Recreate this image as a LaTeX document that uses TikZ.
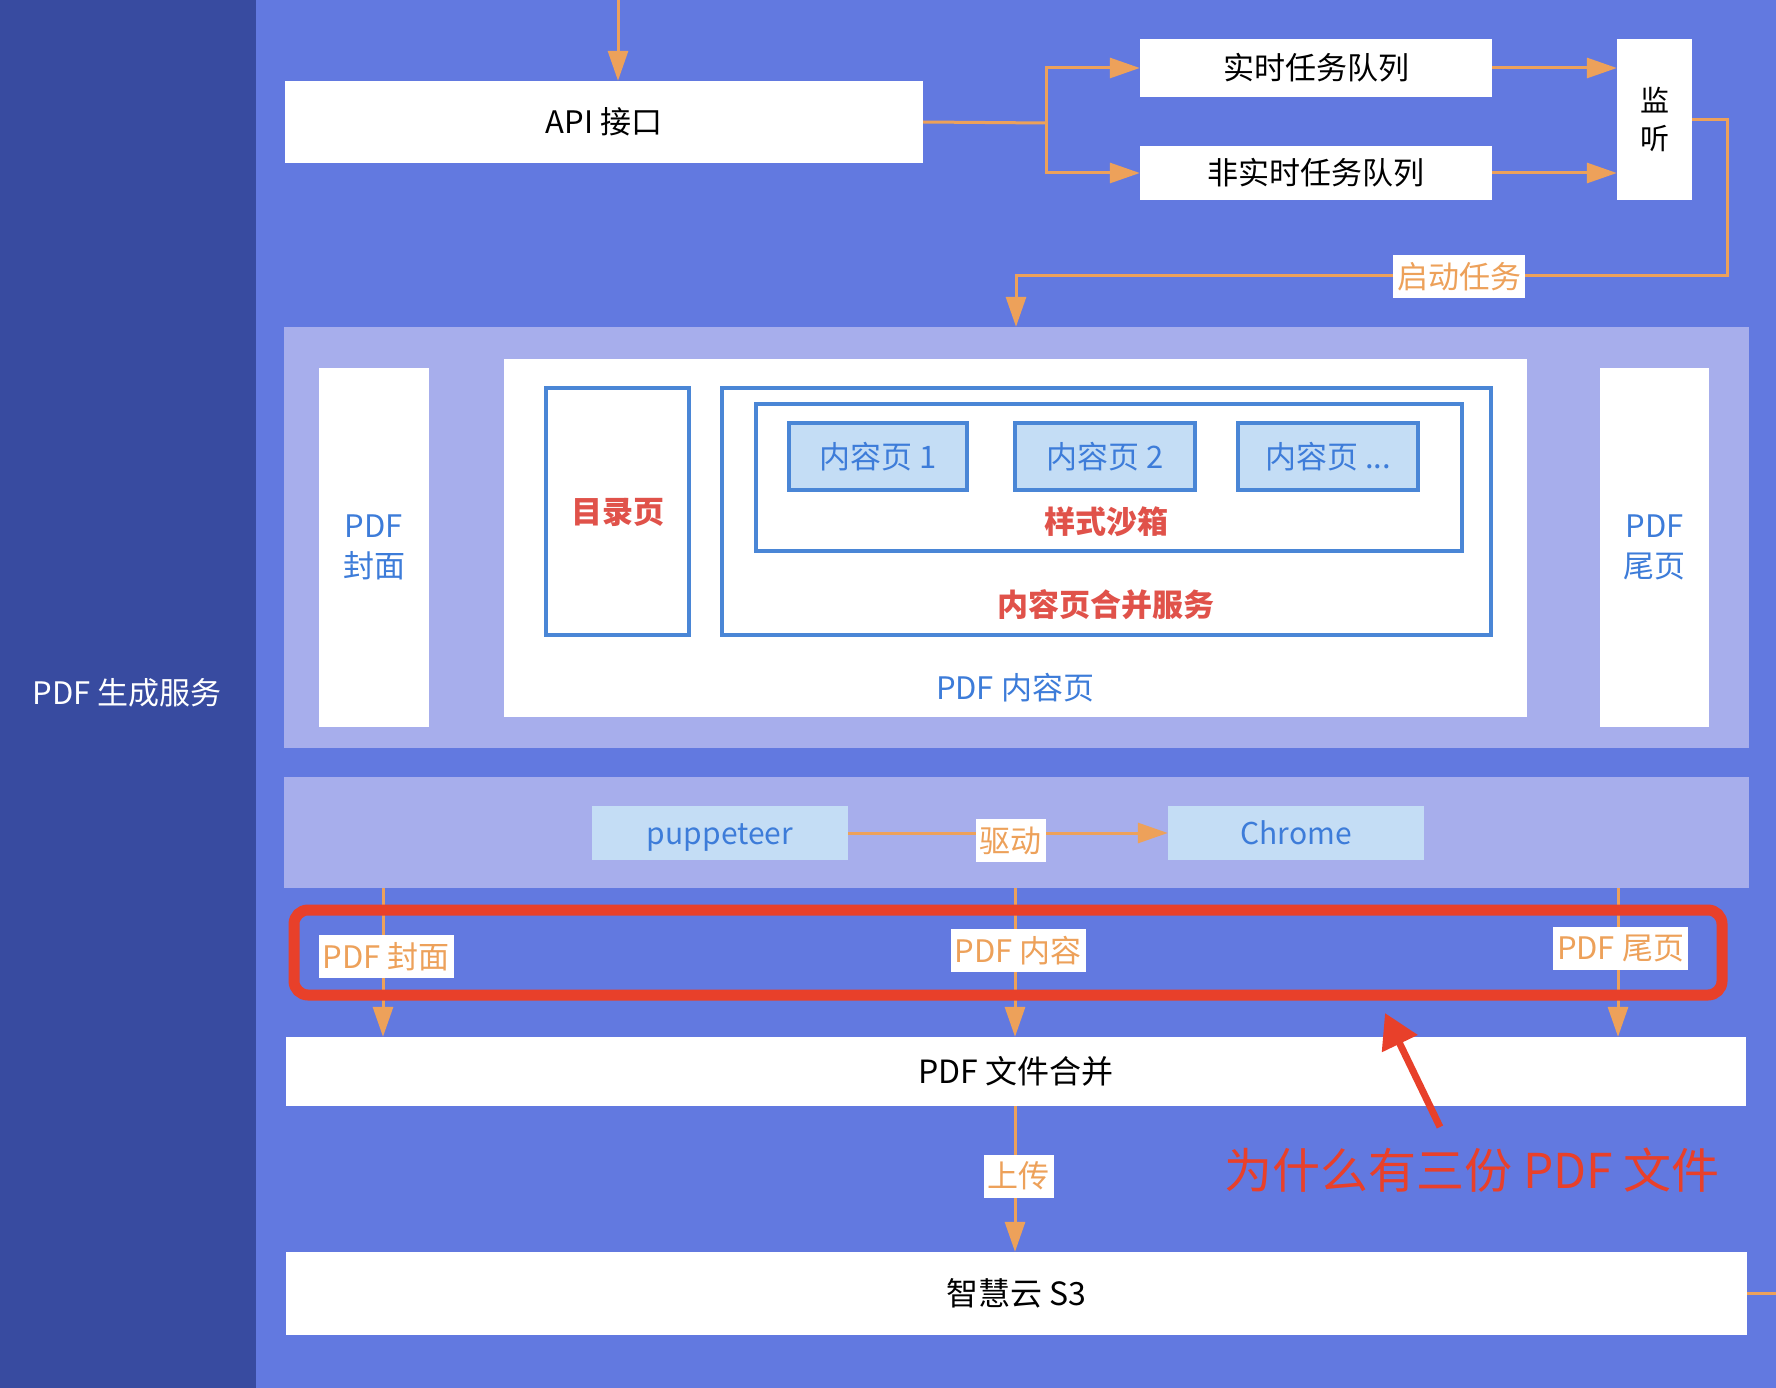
\documentclass[tikz,border=0pt]{standalone}
\usepackage{fontspec}
\setmainfont{Noto Sans CJK SC}
\usetikzlibrary{arrows.meta}
\definecolor{darkp}{HTML}{384BA0}
\definecolor{mainbg}{HTML}{6279E0}
\definecolor{lightblk}{HTML}{A7AEEC}
\definecolor{txtblue}{HTML}{3D7CD9}
\definecolor{boxfill}{HTML}{C4DDF5}
\definecolor{bord}{HTML}{4A86D6}
\definecolor{redtxt}{HTML}{E0524A}
\definecolor{orng}{HTML}{EDA15A}
\definecolor{annred}{HTML}{E8402A}
\newcommand\fsz[1]{\fontsize{#1}{#1}\selectfont}
\tikzset{
  whitebox/.style={fill=white, draw=none, inner sep=0pt, text=black, font=\fsz{31}},
  lightbox/.style={fill=lightblk, draw=none, inner sep=0pt},
  pagebox/.style={fill=white, draw=none, inner sep=0pt, text=txtblue, font=\fsz{31}, align=center},
  framebox/.style={fill=white, draw=bord, line width=4pt, inner sep=0pt},
  cpage/.style={fill=boxfill, draw=bord, line width=4pt, inner sep=0pt, text=txtblue, font=\fsz{31}},
  engbox/.style={fill=boxfill, draw=none, inner sep=0pt, text=txtblue, font=\fsz{30}, text height=22pt, text depth=0pt},
  redlbl/.style={text=redtxt, font=\fsz{31}\bfseries, inner sep=0pt},
  conn/.style={draw=orng, line width=3pt},
  flow/.style={conn, -{Triangle[length=30pt,width=20pt]}},
  lbl/.style={fill=white, text=orng, inner xsep=4pt, inner ysep=0pt, minimum height=43pt, font=\fsz{31}},
}
\begin{document}
\begin{tikzpicture}[x=1pt,y=-1pt]
\useasboundingbox (0,0) rectangle (1776,1388);
% backgrounds
\fill[mainbg] (0,0) rectangle (1776,1388);
\fill[darkp] (0,0) rectangle (256,1388);
\node[text=white, font=\fsz{31}, inner sep=0pt] (svc) at (127,693) {PDF 生成服务};

% top area
\node[whitebox, minimum width=638pt, minimum height=82pt] (api) at (604,122) {API 接口};
\node[whitebox, minimum width=352pt, minimum height=58pt] (rt) at (1316,68) {实时任务队列};
\node[whitebox, minimum width=352pt, minimum height=54pt] (nrt) at (1316,173) {非实时任务队列};
\node[whitebox, minimum width=75pt, minimum height=161pt, align=center, font=\fsz{29}\linespread{1.28}\selectfont] (jt) at (1654.5,119.5) {监\\听};

\coordinate (top) at (618,0);
\coordinate (fork) at (1046,123);
\coordinate (turnA) at (1727,275);
\coordinate (turnB) at (1016,275);

% block 1
\node[lightbox, minimum width=1465pt, minimum height=421pt] (blk1) at (1016.5,537.5) {};
\node[pagebox, minimum width=110pt, minimum height=359pt] (cover) at (374,547.5) {PDF\\[9pt]封面};
\node[pagebox, minimum width=109pt, minimum height=359pt] (tail) at (1654.5,547.5) {PDF\\[9pt]尾页};
\node[pagebox, minimum width=1023pt, minimum height=358pt] (content) at (1015.5,538) {};
\node[text=txtblue, font=\fsz{31}, inner sep=0pt] (contentlbl) at (1015,688) {PDF 内容页};
\node[framebox, minimum width=143pt, minimum height=247pt] (toc) at (617.5,511.5) {};
\node[redlbl] (toclbl) at (618,512) {目录页};
\node[framebox, minimum width=769pt, minimum height=247pt] (merger) at (1106.5,511.5) {};
\node[redlbl] (mergerlbl) at (1106,605) {内容页合并服务};
\node[framebox, minimum width=706pt, minimum height=147pt] (sandbox) at (1109,477.5) {};
\node[redlbl] (sandboxlbl) at (1106,522) {样式沙箱};
\node[cpage, minimum width=178pt, minimum height=67pt] (p1) at (878,456.5) {内容页 1};
\node[cpage, minimum width=180pt, minimum height=67pt] (p2) at (1105,456.5) {内容页 2};
\node[cpage, minimum width=180pt, minimum height=67pt] (p3) at (1328,456.5) {内容页 ...};

% block 2
\node[lightbox, minimum width=1465pt, minimum height=111pt] (blk2) at (1016.5,832.5) {};
\node[engbox, minimum width=256pt, minimum height=54pt] (pup) at (720,833) {puppeteer};
\node[engbox, minimum width=256pt, minimum height=54pt] (chrome) at (1296,833) {Chrome};

% lower boxes
\node[whitebox, font=\fsz{32}, minimum width=1460pt, minimum height=69pt] (merge) at (1016,1071.5) {PDF 文件合并};
\node[whitebox, font=\fsz{32}, minimum width=1461pt, minimum height=83pt] (s3) at (1016.5,1293.5) {智慧云 S3};

% connectors
\draw[flow] (top) -- (top |- api.north);
\draw[conn] (api.east) -- (fork);
\draw[flow] (fork) |- (rt.west);
\draw[flow] (fork) |- (nrt.west);
\draw[flow] (rt.east) -- (rt.east -| jt.west);
\draw[flow] (nrt.east) -- (nrt.east -| jt.west);
\draw[flow] (jt.east) -| (turnA) -- (turnB) -- (turnB |- blk1.north);
\node[lbl] (startlbl) at (1459,276.5) {启动任务};

\draw[flow] (pup.east) -- (chrome.west);
\node[lbl] (drivelbl) at (1010.5,840.5) {驱动};

\coordinate (xa) at (383,0);
\coordinate (xb) at (1015,0);
\coordinate (xc) at (1618,0);
\draw[flow] (blk2.south -| xa) -- (merge.north -| xa);
\draw[flow] (blk2.south -| xb) -- (merge.north -| xb);
\draw[flow] (blk2.south -| xc) -- (merge.north -| xc);

% highlight
\draw[annred, line width=11pt, rounded corners=14pt] (294,910) rectangle (1722,995);
\node[lbl] (coverlbl) at (386,956.5) {PDF 封面};
\node[lbl] (contlbl) at (1018,950.5) {PDF 内容};
\node[lbl] (taillbl) at (1620.5,948.5) {PDF 尾页};

\draw[flow] (merge.south -| xb) -- (s3.north -| xb);
\node[lbl] (uplbl) at (1018.5,1176) {上传};
\draw[conn] (s3.east) -- ++(30,0);

% annotation arrow
\coordinate (ra1) at (1440,1127);
\coordinate (ra2) at (1385,1013);
\draw[annred, line width=7pt, -{Triangle[length=34pt,width=38pt]}] (ra1) -- (ra2);
\node[text=annred, font=\fsz{48}, inner sep=0pt] (question) at (1472,1170) {为什么有三份 PDF 文件};
\end{tikzpicture}
\end{document}
